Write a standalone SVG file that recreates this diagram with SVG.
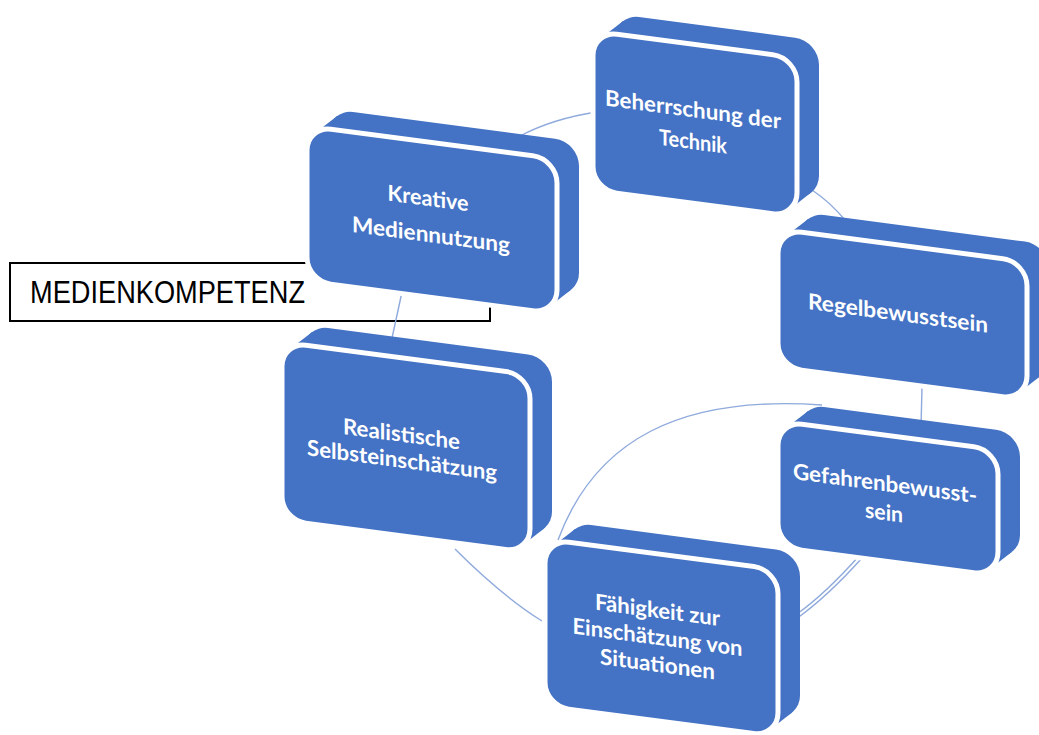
<svg xmlns="http://www.w3.org/2000/svg" width="1039" height="735" viewBox="0 0 1039 735">
<style>
.ext{fill:#4472C4;}
.face{fill:#4472C4;stroke:#FFFFFF;stroke-width:5;}
.lbl{fill:#FFFFFF;font-family:Lato,"Open Sans","DejaVu Sans",sans-serif;font-weight:700;font-size:22px;text-anchor:middle;}
.con{fill:none;stroke:#8FAADC;stroke-width:1.4;}
.title{font-family:"Liberation Sans",Arial,sans-serif;font-size:31px;fill:#000000;}
</style>
<rect width="1039" height="735" fill="#FFFFFF"/>
<g id="title">
  <rect x="10" y="263" width="480" height="58" fill="none" stroke="#000000" stroke-width="2"/>
  <text class="title" x="30" y="303" textLength="275" lengthAdjust="spacingAndGlyphs">MEDIENKOMPETENZ</text>
</g>
<g id="connectors">
  <path class="con" d="M520,136 Q552,119 596,112"/>
  <path class="con" d="M812,190 Q830,202 845,220"/>
  <path class="con" d="M922,388 L921,426"/>
  <path class="con" d="M558,540 C595,440 680,395 822,405"/>
  <path class="con" d="M796,619 Q827,597 862,558"/>
  <path class="con" d="M797,614 Q825,594 859,556"/>
  <path class="con" d="M455,549 Q502,596 542,621"/>
  <path class="con" d="M402,292 Q397,315 392,338"/>
</g>
<g id="n3" transform="translate(778,229) skewY(7.52)">
  <rect class="ext" x="22" y="-20" width="249" height="138" rx="24"/>
  <polygon class="ext" points="7.85,6.23 29.85,-13.77 263.15,111.77 241.15,131.77"/>
  <rect class="face" width="249" height="138" rx="24"/>
  <text class="lbl" x="120" y="76" textLength="180" lengthAdjust="spacingAndGlyphs">Regelbewusstsein</text>
</g>
<g id="n1" transform="translate(593,31) skewY(7.52)">
  <rect class="ext" x="22" y="-20" width="204" height="159" rx="24"/>
  <polygon class="ext" points="7.85,6.23 29.85,-13.77 218.15,132.77 196.15,152.77"/>
  <rect class="face" width="204" height="159" rx="24"/>
  <text class="lbl" x="100" y="73" textLength="176" lengthAdjust="spacingAndGlyphs">Beherrschung der</text>
  <text class="lbl" x="100" y="105" textLength="68" lengthAdjust="spacingAndGlyphs">Technik</text>
</g>
<g id="n4" transform="translate(778,421) skewY(7.52)">
  <rect class="ext" x="22" y="-20" width="220" height="126" rx="24"/>
  <polygon class="ext" points="7.85,6.23 29.85,-13.77 234.15,99.77 212.15,119.77"/>
  <rect class="face" width="220" height="126" rx="24"/>
  <text class="lbl" x="107" y="56" textLength="184" lengthAdjust="spacingAndGlyphs">Gefahrenbewusst-</text>
  <text class="lbl" x="106" y="85" textLength="38" lengthAdjust="spacingAndGlyphs">sein</text>
</g>
<g id="n2" transform="translate(307,126) skewY(7.52)">
  <rect class="ext" x="22" y="-20" width="250" height="155" rx="24"/>
  <polygon class="ext" points="7.85,6.23 29.85,-13.77 264.15,128.77 242.15,148.77"/>
  <rect class="face" width="250" height="155" rx="24"/>
  <text class="lbl" x="121" y="64" textLength="81" lengthAdjust="spacingAndGlyphs">Kreative</text>
  <text class="lbl" x="124" y="100" textLength="158" lengthAdjust="spacingAndGlyphs">Mediennutzung</text>
</g>
<g id="n5" transform="translate(545,539) skewY(7.52)">
  <rect class="ext" x="22" y="-20" width="233" height="167" rx="24"/>
  <polygon class="ext" points="7.85,6.23 29.85,-13.77 247.15,140.77 225.15,160.77"/>
  <rect class="face" width="233" height="167" rx="24"/>
  <text class="lbl" x="112.5" y="64" textLength="125" lengthAdjust="spacingAndGlyphs">Fähigkeit zur</text>
  <text class="lbl" x="112.5" y="91" textLength="170" lengthAdjust="spacingAndGlyphs">Einschätzung von</text>
  <text class="lbl" x="112.5" y="118" textLength="115" lengthAdjust="spacingAndGlyphs">Situationen</text>
</g>
<g id="n6" transform="translate(282,342) skewY(7.52)">
  <rect class="ext" x="22" y="-20" width="248" height="178" rx="24"/>
  <polygon class="ext" points="7.85,6.23 29.85,-13.77 262.15,151.77 240.15,171.77"/>
  <rect class="face" width="248" height="178" rx="24"/>
  <text class="lbl" x="119.5" y="84" textLength="117" lengthAdjust="spacingAndGlyphs">Realistische</text>
  <text class="lbl" x="120" y="110" textLength="190" lengthAdjust="spacingAndGlyphs">Selbsteinschätzung</text>
</g>
</svg>
